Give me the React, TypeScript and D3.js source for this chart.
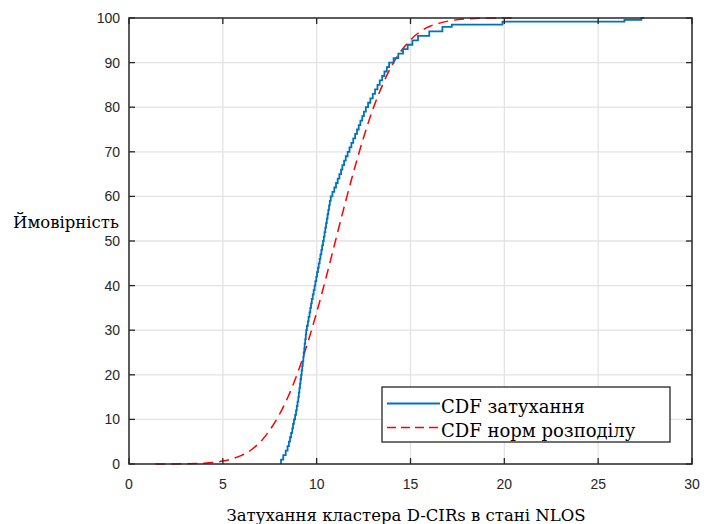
import React from "react";
import * as d3 from "d3";

// Empirical CDF (blue): jump positions and level after jump (%)
const ecdfX = [
  8.10, 8.22, 8.35, 8.45, 8.52, 8.58, 8.64, 8.70, 8.74, 8.79,
  8.85, 8.90, 8.94, 8.98, 9.02, 9.05, 9.08, 9.11, 9.14, 9.17,
  9.20, 9.23, 9.26, 9.29, 9.31, 9.34, 9.36, 9.39, 9.42, 9.44,
  9.48, 9.53, 9.57, 9.62, 9.66, 9.70, 9.74, 9.79, 9.84, 9.89,
  9.93, 9.98, 10.02, 10.07, 10.11, 10.16, 10.20, 10.25, 10.29, 10.34,
  10.38, 10.42, 10.46, 10.50, 10.54, 10.58, 10.62, 10.66, 10.70, 10.75,
  10.84, 10.94, 11.03, 11.12, 11.21, 11.30, 11.37, 11.46, 11.55, 11.65,
  11.75, 11.85, 11.95, 12.05, 12.15, 12.24, 12.33, 12.43, 12.52, 12.62,
  12.74, 12.86, 12.99, 13.11, 13.24, 13.36, 13.49, 13.61, 13.74, 13.86,
  14.10, 14.35, 14.60, 14.85, 15.10, 15.40, 16.00, 16.70, 17.20, 19.90,
  26.40, 27.30,
];
const ecdfP = [
  1, 2, 3, 4, 5, 6, 7, 8, 9, 10,
  11, 12, 13, 14, 15, 16, 17, 18, 19, 20,
  21, 22, 23, 24, 25, 26, 27, 28, 29, 30,
  31, 32, 33, 34, 35, 36, 37, 38, 39, 40,
  41, 42, 43, 44, 45, 46, 47, 48, 49, 50,
  51, 52, 53, 54, 55, 56, 57, 58, 59, 60,
  61, 62, 63, 64, 65, 66, 67, 68, 69, 70,
  71, 72, 73, 74, 75, 76, 77, 78, 79, 80,
  81, 82, 83, 84, 85, 86, 87, 88, 89, 90,
  91, 92, 93, 94, 95, 96, 97, 98, 98.5, 99.2,
  99.6, 100,
];
const ecdfEndX = 27.45;

// Normal-distribution CDF (red dashed)
const normX = [1.4, 2, 3, 4, 5, 5.5, 6, 6.5, 7, 7.5, 8, 8.5, 9, 9.5, 10, 10.5, 11, 11.5, 12, 12.5, 13, 13.5, 14, 14.5, 15, 15.5, 16, 16.5, 17, 18, 19, 20, 20.7];
const normP = [0, 0.01, 0.05, 0.19, 0.66, 1.16, 1.93, 3.14, 4.95, 7.6, 11.0, 15.3, 20.6, 26.9, 34.0, 41.8, 50.0, 58.2, 66.0, 73.2, 79.6, 84.9, 89.3, 92.6, 95.1, 96.9, 98.1, 98.8, 99.3, 99.8, 99.95, 99.99, 100];

const xTicks = [0, 5, 10, 15, 20, 25, 30];
const yTicks = [0, 10, 20, 30, 40, 50, 60, 70, 80, 90, 100];

const legendLabels = ["CDF затухання", "CDF норм розподілу"];
const xLabel = "Затухання кластера D-CIRs в стані NLOS";
const yLabel = "Ймовірність";

export default function App() {
  const W = 704, H = 524;
  const left = 129, right = 692, top = 18, bottom = 464;
  const x = d3.scaleLinear().domain([0, 30]).range([left, right]);
  const y = d3.scaleLinear().domain([0, 100]).range([bottom, top]);

  const bluePts: [number, number][] = [[ecdfX[0], 0]];
  ecdfX.forEach((v, i) => bluePts.push([v, ecdfP[i]]));
  bluePts.push([ecdfEndX, 100]);
  const blueLine = d3.line<[number, number]>()
    .x(d => x(d[0])).y(d => y(d[1])).curve(d3.curveStepAfter);
  const redPts: [number, number][] = normX.map((v, i) => [v, normP[i]]);
  const redLine = d3.line<[number, number]>()
    .x(d => x(d[0])).y(d => y(d[1])).curve(d3.curveMonotoneX);

  const axisColor = "#262626";
  const tickFont = "'Liberation Sans', Arial, sans-serif";
  const serif = "'DejaVu Serif', serif";
  const tl = 6;

  const lgX = 382, lgY = 387, lgW = 288, lgH = 55;

  return (
    <svg width={W} height={H} style={{ position: "absolute", left: 0, top: 0, background: "#fff" }}>
      <rect x={0} y={0} width={W} height={H} fill="#fff" />
      {/* grid */}
      {xTicks.slice(1, -1).map(t => (
        <line key={"gx" + t} x1={x(t)} x2={x(t)} y1={top} y2={bottom} stroke="#e3e3e3" strokeWidth={1.3} />
      ))}
      {yTicks.slice(1, -1).map(t => (
        <line key={"gy" + t} x1={left} x2={right} y1={y(t)} y2={y(t)} stroke="#e3e3e3" strokeWidth={1.3} />
      ))}
      {/* data */}
      <path d={redLine(redPts) || ""} fill="none" stroke="#ff0000" strokeWidth={1.5} strokeDasharray="10,6" />
      <path d={blueLine(bluePts) || ""} fill="none" stroke="#0072BD" strokeWidth={1.8} />
      {/* box */}
      <rect x={left} y={top} width={right - left} height={bottom - top} fill="none" stroke={axisColor} strokeWidth={1.5} />
      {/* ticks */}
      {xTicks.map(t => (
        <g key={"tx" + t}>
          <line x1={x(t)} x2={x(t)} y1={bottom} y2={bottom - tl} stroke={axisColor} strokeWidth={1.3} />
          <line x1={x(t)} x2={x(t)} y1={top} y2={top + tl} stroke={axisColor} strokeWidth={1.3} />
          <text x={x(t)} y={bottom + 25} textAnchor="middle" fontFamily={tickFont} fontSize={14} fill={axisColor}>{t}</text>
        </g>
      ))}
      {yTicks.map(t => (
        <g key={"ty" + t}>
          <line x1={left} x2={left + tl} y1={y(t)} y2={y(t)} stroke={axisColor} strokeWidth={1.3} />
          <line x1={right} x2={right - tl} y1={y(t)} y2={y(t)} stroke={axisColor} strokeWidth={1.3} />
          <text x={left - 9} y={y(t) + 5} textAnchor="end" fontFamily={tickFont} fontSize={14} fill={axisColor}>{t}</text>
        </g>
      ))}
      {/* axis labels */}
      <text x={406} y={521} textAnchor="middle" fontFamily={serif} fontSize={16.5} fill="#000">{xLabel}</text>
      <text x={13} y={228} fontFamily={serif} fontSize={16.5} fill="#000">{yLabel}</text>
      {/* legend */}
      <rect x={lgX} y={lgY} width={lgW} height={lgH} fill="#fff" stroke={axisColor} strokeWidth={1.3} />
      <line x1={387} x2={440} y1={403.5} y2={403.5} stroke="#0072BD" strokeWidth={1.8} />
      <line x1={387} x2={440} y1={427.5} y2={427.5} stroke="#ff0000" strokeWidth={1.5} strokeDasharray="9,5" />
      <text x={441} y={413} fontFamily={serif} fontSize={18} fill="#000">{legendLabels[0]}</text>
      <text x={441} y={437} fontFamily={serif} fontSize={18} fill="#000">{legendLabels[1]}</text>
    </svg>
  );
}
